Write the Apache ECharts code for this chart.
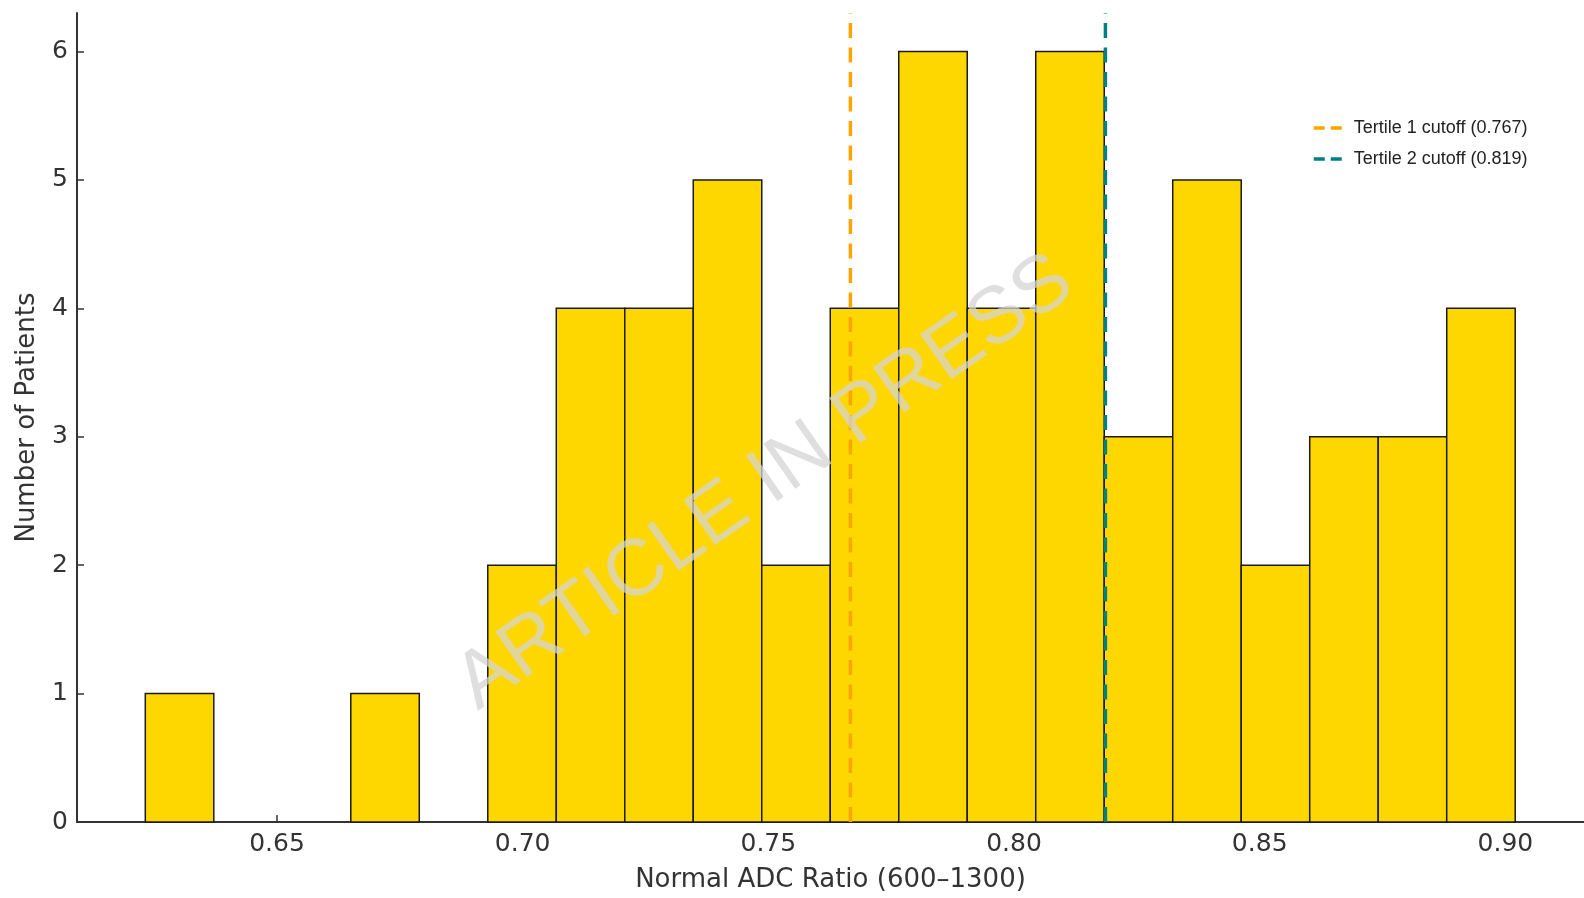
<!DOCTYPE html>
<html>
<head>
<meta charset="utf-8">
<script src="https://cdn.jsdelivr.net/npm/echarts@6/dist/echarts.min.js"></script>
<style>
html,body{margin:0;padding:0;background:#fff;}
#chart{width:1584px;height:898px;}
</style>
</head>
<body>
<div id="chart"></div>
<script>
// Histogram: 20 equal bins between binLo and binHi
const binLo = 0.6232;
const binHi = 0.9020;
const counts = [1, 0, 0, 1, 0, 2, 4, 4, 5, 2, 4, 6, 4, 6, 3, 5, 2, 3, 3, 4];
const xTicks = [0.65, 0.70, 0.75, 0.80, 0.85, 0.90];
const yTicks = [0, 1, 2, 3, 4, 5, 6];
const cutoffNames = ['Tertile 1 cutoff (0.767)', 'Tertile 2 cutoff (0.819)'];
const cutoffValues = [0.7667, 0.8186];
const cutoffColors = ['#FFA500', '#008080'];
const xRange = [0.6093, 0.916];
const yRange = [0, 6.3];

const binW = (binHi - binLo) / counts.length;
const binData = counts.map((c, i) => [binLo + i * binW, binLo + (i + 1) * binW, c]);

const chart = echarts.init(document.getElementById('chart'), null, {renderer: 'canvas'});

const lineSeries = cutoffValues.map((v, i) => ({
  name: cutoffNames[i],
  type: 'line',
  data: [[v, yRange[0]], [v, yRange[1]]],
  symbol: 'none',
  z: 5,
  lineStyle: {color: cutoffColors[i], width: 3.5, type: [15, 9.5]},
  itemStyle: {color: cutoffColors[i]},
  silent: true
}));

chart.setOption({
  animation: false,
  backgroundColor: '#ffffff',
  grid: {left: 77, right: 0, top: 13, bottom: 75},
  legend: {
    data: cutoffNames,
    orient: 'vertical',
    left: 1307,
    top: 113,
    itemWidth: 30,
    itemHeight: 20,
    itemGap: 11,
    itemStyle: {opacity: 0},
    lineStyle: {type: [11, 6], width: 3.5},
    textStyle: {fontFamily: 'Liberation Sans', fontSize: 18, color: '#222', lineHeight: 20, padding: [0, 0, 0, 5]}
  },
  xAxis: {
    type: 'value',
    min: xRange[0],
    max: xRange[1],
    name: 'Normal ADC Ratio (600–1300)',
    nameLocation: 'middle',
    nameGap: 45,
    nameTextStyle: {fontFamily: 'DejaVu Sans', fontSize: 26, color: '#333'},
    axisLine: {show: true, lineStyle: {color: '#333', width: 2}},
    axisTick: {show: true, inside: true, length: 7, lineStyle: {color: '#333', width: 1.5}, customValues: xTicks},
    axisLabel: {
      customValues: xTicks,
      formatter: v => v.toFixed(2),
      fontFamily: 'DejaVu Sans', fontSize: 25, color: '#333', margin: 10
    },
    splitLine: {show: false}
  },
  yAxis: {
    type: 'value',
    min: yRange[0],
    max: yRange[1],
    name: 'Number of Patients',
    nameLocation: 'middle',
    nameRotate: 90,
    nameGap: 37,
    nameTextStyle: {fontFamily: 'DejaVu Sans', fontSize: 26, color: '#333'},
    axisLine: {show: true, lineStyle: {color: '#333', width: 2}},
    axisTick: {show: true, inside: true, length: 7, lineStyle: {color: '#333', width: 1.5}, customValues: yTicks},
    axisLabel: {
      customValues: yTicks,
      formatter: v => String(v),
      fontFamily: 'DejaVu Sans', fontSize: 25, color: '#333', margin: 9
    },
    splitLine: {show: false}
  },
  series: [
    {
      type: 'custom',
      data: binData,
      encode: {x: [0, 1], y: 2},
      z: 2,
      renderItem: function (params, api) {
        const x0 = api.value(0), x1 = api.value(1), y = api.value(2);
        if (y <= 0) return null;
        const p0 = api.coord([x0, y]);
        const p1 = api.coord([x1, 0]);
        return {
          type: 'rect',
          shape: {x: p0[0], y: p0[1], width: p1[0] - p0[0], height: p1[1] - p0[1]},
          style: {fill: '#FFD700', stroke: '#1a1a1a', lineWidth: 1.5}
        };
      }
    }
  ].concat(lineSeries),
  graphic: [
    {
      type: 'text',
      x: 765,
      y: 483,
      rotation: 35 * Math.PI / 180,
      z: 100,
      silent: true,
      style: {
        text: 'ARTICLE IN PRESS',
        font: '80px "Liberation Sans"',
        fill: 'rgba(212,212,212,0.74)',
        textAlign: 'center',
        textVerticalAlign: 'middle'
      }
    }
  ]
});
</script>
</body>
</html>
